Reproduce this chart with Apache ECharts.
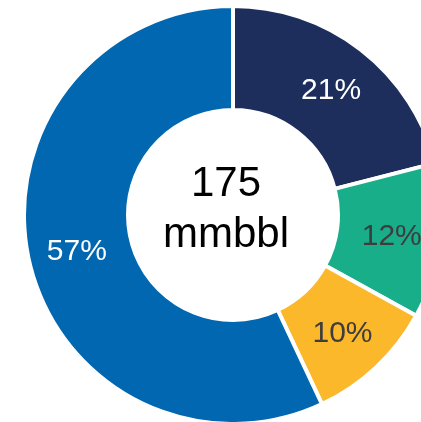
<!DOCTYPE html>
<html>
<head>
<meta charset="utf-8">
<script src="https://cdn.jsdelivr.net/npm/echarts@6/dist/echarts.min.js"></script>
<style>
html,body{margin:0;padding:0;background:#fff;}
#c{width:421px;height:422px;}
</style>
</head>
<body>
<div id="c"></div>
<script>
const categories = ['A', 'B', 'C', 'D'];
const values = [21, 12, 10, 57];
const labels = ['21%', '12%', '10%', '57%'];
const colors = ['#1d2e5c', '#19ae8a', '#fbb82b', '#0067b0'];
const labelColors = ['#ffffff', '#3d3d3d', '#3d3d3d', '#ffffff'];
const centerLines = ['175', 'mmbbl'];

const chart = echarts.init(document.getElementById('c'), null, {renderer: 'canvas'});
const data = categories.map((c, i) => ({
  name: c,
  value: values[i],
  itemStyle: {color: colors[i]},
  label: {color: labelColors[i], formatter: labels[i]}
}));
chart.setOption({
  animation: false,
  backgroundColor: '#ffffff',
  graphic: [{
    type: 'text',
    x: 226, y: 210,
    style: {
      text: centerLines.join('\n'),
      fontFamily: 'Liberation Sans, Arial, sans-serif',
      fontSize: 42,
      lineHeight: 51,
      fill: '#000000',
      align: 'center',
      verticalAlign: 'middle'
    }
  }],
  series: [{
    type: 'pie',
    center: [233, 215],
    radius: [105, 209],
    startAngle: 90,
    clockwise: true,
    avoidLabelOverlap: false,
    itemStyle: {borderColor: '#ffffff', borderWidth: 4},
    label: {
      show: true,
      position: 'inside',
      offset: [0, 2],
      fontFamily: 'Liberation Sans, Arial, sans-serif',
      fontSize: 30
    },
    labelLine: {show: false},
    emphasis: {disabled: true},
    data: data
  }]
});
</script>
</body>
</html>
